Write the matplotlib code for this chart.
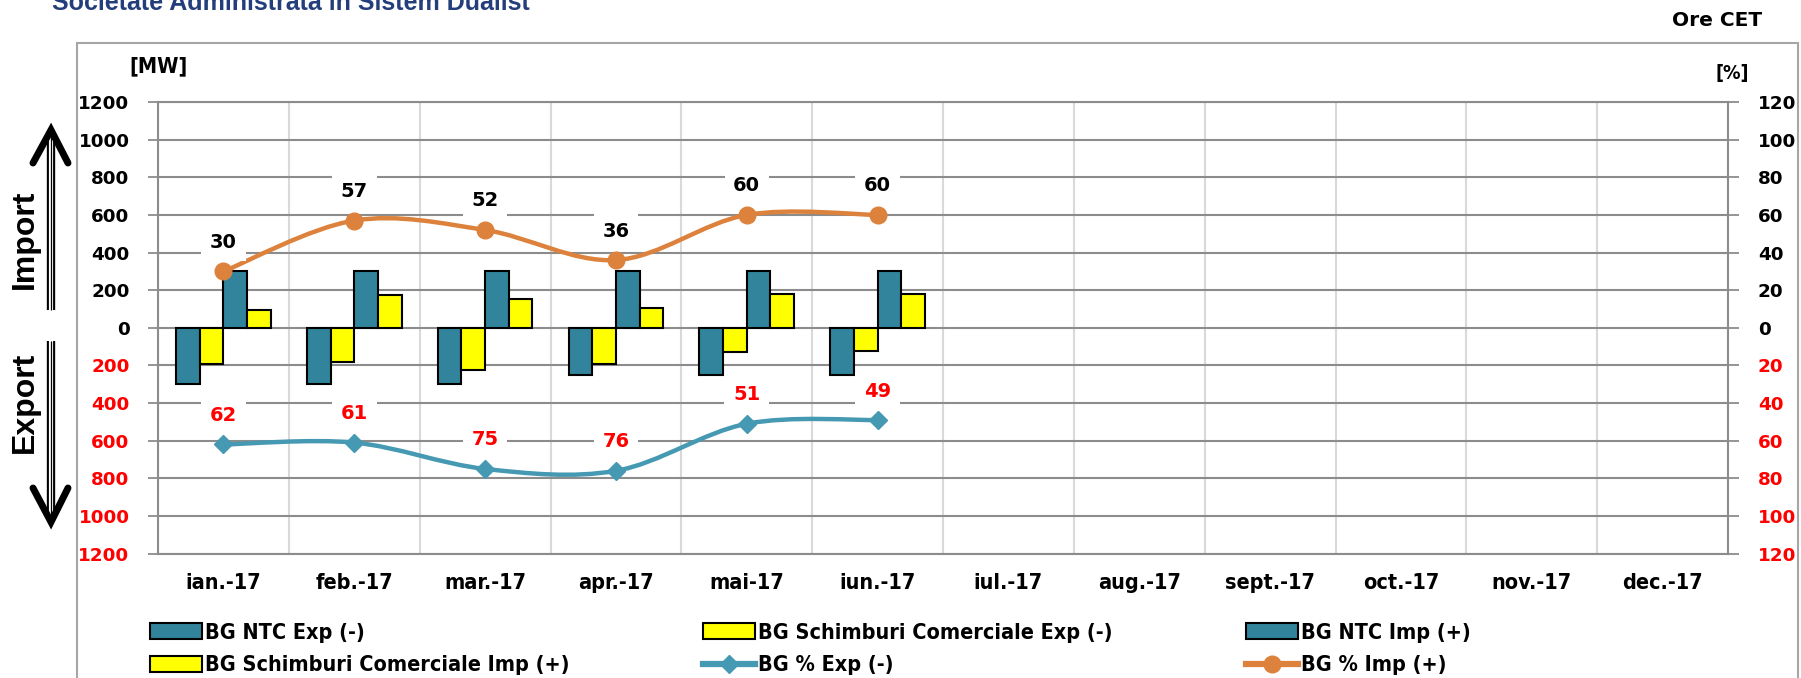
import os
import numpy as np
import matplotlib
matplotlib.use("Agg")
import matplotlib.pyplot as plt
import matplotlib.font_manager as fm
from matplotlib.path import Path
from matplotlib.patches import PathPatch, Patch
from matplotlib.lines import Line2D

# ---------------- data ----------------
months = ['ian.-17', 'feb.-17', 'mar.-17', 'apr.-17', 'mai-17', 'iun.-17',
          'iul.-17', 'aug.-17', 'sept.-17', 'oct.-17', 'nov.-17', 'dec.-17']
ntc_exp = [-300, -300, -300, -250, -250, -250]
sc_exp = [-192, -181, -226, -192, -130, -123]
ntc_imp = [300, 300, 300, 300, 300, 300]
sc_imp = [94, 172, 154, 103, 181, 181]
pct_exp = [62, 61, 75, 76, 51, 49]
pct_imp = [30, 57, 52, 36, 60, 60]
mw_ticks = list(range(-1200, 1201, 200))
pct_ticks = list(range(-120, 121, 20))
legend_labels = ['BG NTC Exp (-)', 'BG Schimburi Comerciale Exp (-)', 'BG NTC Imp (+)',
                 'BG Schimburi Comerciale Imp (+)', 'BG % Exp (-)', 'BG % Imp (+)']

# ---------------- styles ----------------
TEAL = '#31849B'
YELLOW = '#FFFF00'
ORANGE = '#DC823C'
LTEAL = '#4699B3'
GRID = '#8C8C8C'
VGRID = '#D9D9D9'
RED = '#FF0000'

W, H = 1801, 678
fig = plt.figure(figsize=(W / 100, H / 100), dpi=100)
fig.patch.set_facecolor('white')


def find_font(names):
    files = [f.fname for f in fm.fontManager.ttflist]
    for n in names:
        for f in files:
            if os.path.splitext(os.path.basename(f))[0] == n:
                return f
    return None


cond = find_font(['DejaVuSansCondensed-Bold', 'LiberationSansNarrow-Bold', 'Carlito-Bold',
                  'RobotoCondensed-Bold', 'OpenSans_Condensed-Bold'])


def cfont(size):
    if cond:
        return fm.FontProperties(fname=cond, size=size)
    return fm.FontProperties(family='DejaVu Sans', weight='bold', stretch='condensed', size=size)


vfont = dict(family='DejaVu Sans', weight='bold')

# ---------------- overlay (figure pixel coords) ----------------
ov = fig.add_axes([0, 0, 1, 1])
ov.set_xlim(0, W)
ov.set_ylim(H, 0)
ov.axis('off')

# frame
ov.plot([77, 77, 1798, 1798], [H + 5, 43, 43, H + 5], color='#A6A6A6', lw=1.5,
        solid_joinstyle='miter')
# title (cut at the top edge, as in the source)
ov.text(52, 10, 'Societate Administrata in Sistem Dualist', family='Liberation Sans',
        weight='bold', fontsize=18, color='#233E7A', va='baseline', ha='left')
ov.text(1717, 21, 'Ore CET', fontsize=14.5, ha='center', va='center', **vfont)
ov.text(158, 66, '[MW]', fontproperties=cfont(15.5), ha='center', va='center')
ov.text(1732, 74, '[%]', fontproperties=cfont(14), ha='center', va='center')

# Import / Export arrows
for (y0, y1, tip, base) in [(310, 136, 130, 163), (341, 516, 522, 488)]:
    ov.plot([51, 51], [y0, y1], color='black', lw=6.0, solid_capstyle='butt')
    ov.plot([51, 51], [y0, y1], color='white', lw=3.0, solid_capstyle='butt')
    ov.plot([51, 51], [y0, y1], color='black', lw=0.9, solid_capstyle='butt')
    ov.plot([33, 51, 68], [base, tip, base], color='black', lw=5.0,
            solid_capstyle='round', solid_joinstyle='miter')
ov.text(25, 239, 'Import', family='Liberation Sans', weight='bold', fontsize=23,
        rotation=90, ha='center', va='center')
ov.text(25, 402, 'Export', family='Liberation Sans', weight='bold', fontsize=23,
        rotation=90, ha='center', va='center')

# ---------------- main axes ----------------
left, right, top, bottom = 158, 1728, 102, 553.6
ax = fig.add_axes([left / W, 1 - bottom / H, (right - left) / W, (bottom - top) / H])
ax.set_facecolor('none')
ax.set_xlim(-0.5, len(months) - 0.5)
ax.set_ylim(-1200, 1200)
ax.set_axisbelow(True)

x = np.arange(len(ntc_exp))
bw = 0.181
kw = dict(edgecolor='black', linewidth=1.5, zorder=3)
b1 = ax.bar(x - 1.5 * bw, ntc_exp, bw, color=TEAL, **kw)
b2 = ax.bar(x - 0.5 * bw, sc_exp, bw, color=YELLOW, **kw)
b3 = ax.bar(x + 0.5 * bw, ntc_imp, bw, color=TEAL, **kw)
b4 = ax.bar(x + 1.5 * bw, sc_imp, bw, color=YELLOW, **kw)

ax.set_yticks(mw_ticks)
ax.set_yticklabels([str(abs(v)) for v in mw_ticks])
for lab, v in zip(ax.get_yticklabels(), mw_ticks):
    lab.set_color(RED if v < 0 else 'black')
    lab.set_fontfamily('DejaVu Sans')
    lab.set_fontweight('bold')
    lab.set_fontsize(13.2)
ax.tick_params(axis='y', direction='out', length=7, width=1.3, color=GRID, pad=13.5)
ax.grid(axis='y', which='major', color=GRID, lw=1.5)

ax.set_xticks(np.arange(len(months)))
ax.set_xticklabels(months)
for lab in ax.get_xticklabels():
    lab.set_fontproperties(cfont(15.5))
ax.set_xticks(np.arange(-0.5, len(months), 1), minor=True)
ax.tick_params(axis='x', which='both', length=0, pad=14)
ax.grid(axis='x', which='minor', color=VGRID, lw=1.5)

for s in ['left', 'right', 'top', 'bottom']:
    ax.spines[s].set_color(GRID)
    ax.spines[s].set_linewidth(1.5)
ax.spines['right'].set_visible(False)

# ticks below the zero line at the category boundaries
sec = ax.secondary_xaxis(0.49999)
sec.set_xticks(np.arange(-0.5, len(months), 1))
sec.set_xticklabels([])
sec.tick_params(axis='x', direction='out', length=6, width=1.3, color=GRID)
for s in sec.spines.values():
    s.set_visible(False)

# ---------------- percent axis ----------------
ax2 = ax.twinx()
ax2.set_ylim(-120, 120)
ax2.set_yticks(pct_ticks)
ax2.set_yticklabels([str(abs(v)) for v in pct_ticks])
for lab, v in zip(ax2.get_yticklabels(), pct_ticks):
    lab.set_color(RED if v < 0 else 'black')
    lab.set_fontfamily('DejaVu Sans')
    lab.set_fontweight('bold')
    lab.set_fontsize(13.2)
ax2.tick_params(axis='y', direction='out', length=8, width=1.3, color=GRID, pad=13.5)
for s in ['left', 'top', 'bottom']:
    ax2.spines[s].set_visible(False)
ax2.spines['right'].set_color(GRID)
ax2.spines['right'].set_linewidth(1.5)


def smooth_path(xs, ys):
    pts = np.column_stack([xs, ys]).astype(float)
    n = len(pts)
    verts = [pts[0]]
    codes = [Path.MOVETO]
    for i in range(n - 1):
        p0 = pts[max(i - 1, 0)]
        p1 = pts[i]
        p2 = pts[i + 1]
        p3 = pts[min(i + 2, n - 1)]
        verts += [p1 + (p2 - p0) / 6.0, p2 - (p3 - p1) / 6.0, p2]
        codes += [Path.CURVE4] * 3
    return Path(verts, codes)


xi = np.arange(len(pct_imp))
imp_y = np.array(pct_imp)
exp_y = -np.array(pct_exp)
ax2.add_patch(PathPatch(smooth_path(xi, imp_y), fill=False, edgecolor=ORANGE, lw=3.2,
                        capstyle='round', zorder=4))
ax2.add_patch(PathPatch(smooth_path(xi, exp_y), fill=False, edgecolor=LTEAL, lw=3.2,
                        capstyle='round', zorder=4))
ax2.plot(xi, imp_y, ls='none', marker='o', ms=12, color=ORANGE, zorder=5)
ax2.plot(xi, exp_y, ls='none', marker='D', ms=9.5, color=LTEAL, zorder=5)

for xx, v in zip(xi, pct_imp):
    ax2.annotate(str(v), (xx, v), xytext=(0, 29), textcoords='offset pixels',
                 ha='center', va='center', fontsize=14, color='black', zorder=6,
                 bbox=dict(boxstyle='square,pad=0.45', fc='white', ec='none'), **vfont)
for xx, v in zip(xi, pct_exp):
    ax2.annotate(str(v), (xx, -v), xytext=(0, 29), textcoords='offset pixels',
                 ha='center', va='center', fontsize=14, color=RED, zorder=6,
                 bbox=dict(boxstyle='square,pad=0.45', fc='white', ec='none'), **vfont)

# ---------------- legend ----------------
h_ntc = Patch(facecolor=TEAL, edgecolor='black', linewidth=1.5)
h_sc = Patch(facecolor=YELLOW, edgecolor='black', linewidth=1.5)
h_pexp = Line2D([], [], color=LTEAL, lw=4.5, marker='D', ms=9.5)
h_pimp = Line2D([], [], color=ORANGE, lw=4.5, marker='o', ms=12)
handles = [h_ntc, h_sc, h_ntc, h_sc, h_pexp, h_pimp]

cols = [(150, [0, 3]), (703, [1, 4]), (1246, [2, 5])]
for cx, idx in cols:
    fig.legend([handles[i] for i in idx], [legend_labels[i] for i in idx],
               loc='center left', bbox_to_anchor=(cx / W, 1 - 649 / H),
               frameon=False, borderpad=0, borderaxespad=0, labelspacing=0.6,
               handlelength=2.42, handleheight=0.72, handletextpad=0.12,
               prop=cfont(15.5))

fig.savefig('out.png', dpi=100, facecolor='white')
